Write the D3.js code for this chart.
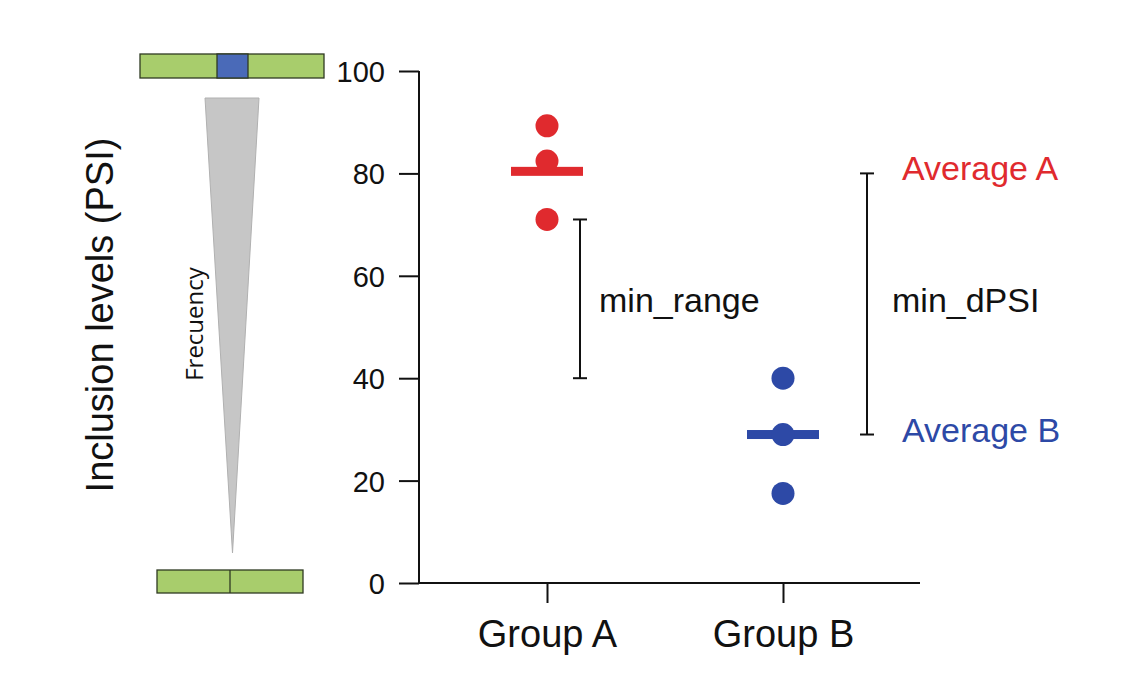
<!DOCTYPE html>
<html><head><meta charset="utf-8">
<script src="https://cdn.jsdelivr.net/npm/d3@7"></script>
<style>html,body{margin:0;padding:0;background:#fff;}svg{display:block;font-family:"Liberation Sans",Arial,sans-serif;}</style>
</head><body>
<svg id="c" width="1134" height="695"></svg>
<script>
const groups = ["Group A", "Group B"];
const valuesA = [89.3, 82.4, 71];
const valuesB = [40, 29, 17.5];
const averages = [80.4, 29];
const yTicks = [0, 20, 40, 60, 80, 100];
const minRange = [71, 40];
const minDPSI = [80, 29];
const avgLabels = ["Average A", "Average B"];
const colors = ["#e02a2e", "#2d49a6"];

const svg = d3.select("#c");
const y = d3.scaleLinear().domain([0, 100]).range([583, 71]);
const x = d3.scalePoint().domain(groups).range([547, 783]);

// Y axis
const yAx = svg.append("g").attr("transform", "translate(419,0)")
  .call(d3.axisLeft(y).tickValues(yTicks).tickSize(20).tickPadding(14));
yAx.select(".domain").attr("stroke", "#111").attr("stroke-width", 2).attr("d", "M0,71V583");
yAx.selectAll(".tick line").attr("stroke", "#111").attr("stroke-width", 2);
yAx.selectAll(".tick text").attr("font-size", 29).attr("fill", "#111")
  .attr("font-family", "Liberation Sans, Arial, sans-serif").attr("dy", "0.36em");

// X axis
const xAx = svg.append("g").attr("transform", "translate(0,583)")
  .call(d3.axisBottom(x).tickSize(20).tickPadding(0));
xAx.select(".domain").attr("stroke", "#111").attr("stroke-width", 2).attr("d", "M419,0H920");
xAx.selectAll(".tick line").attr("stroke", "#111").attr("stroke-width", 2);
xAx.selectAll(".tick text").attr("font-size", 38).attr("fill", "#111")
  .attr("font-family", "Liberation Sans, Arial, sans-serif").attr("dy", null).attr("y", 64);

// Y label
svg.append("text").attr("transform", "translate(113,315) rotate(-90)")
  .attr("text-anchor", "middle").attr("font-size", 38).attr("fill", "#111")
  .text("Inclusion levels (PSI)");

// Means
[valuesA, valuesB].forEach((vals, i) => {
  const cx = x(groups[i]);
  svg.append("rect").attr("x", cx - 36).attr("y", y(averages[i]) - 4.5)
    .attr("width", 72).attr("height", 9).attr("fill", colors[i]);
  svg.selectAll(null).data(vals).enter().append("circle")
    .attr("cx", cx).attr("cy", d => y(d)).attr("r", 11.5).attr("fill", colors[i]);
});

// Brackets
function bracket(xp, range, label, lx) {
  const g = svg.append("g").attr("stroke", "#111").attr("stroke-width", 2);
  g.append("line").attr("x1", xp).attr("x2", xp).attr("y1", y(range[0])).attr("y2", y(range[1]));
  range.forEach(v => g.append("line").attr("x1", xp - 7).attr("x2", xp + 7).attr("y1", y(v)).attr("y2", y(v)));
  svg.append("text").attr("x", lx).attr("y", 312)
    .attr("font-size", 34).attr("fill", "#111").text(label);
}
bracket(580, minRange, "min_range", 599);
bracket(867, minDPSI, "min_dPSI", 892);

avgLabels.forEach((t, i) => {
  svg.append("text").attr("x", 902).attr("y", y(minDPSI[i]) + 7)
    .attr("font-size", 34).attr("fill", colors[i]).text(t);
});

// Left diagram: exon with inclusion
const green = "#a8cd6c", exonBlue = "#4a6ab8", edge = "#2f3a22";
svg.append("rect").attr("x", 140).attr("y", 54).attr("width", 184).attr("height", 24)
  .attr("fill", green).attr("stroke", edge).attr("stroke-width", 1.3);
svg.append("rect").attr("x", 217).attr("y", 54).attr("width", 31).attr("height", 24)
  .attr("fill", exonBlue).attr("stroke", edge).attr("stroke-width", 1.3);

// triangle
svg.append("path").attr("d", "M205,98L259,98L232.5,553Z")
  .attr("fill", "#c6c6c6").attr("stroke", "#b0b0b0").attr("stroke-width", 1);
svg.append("text").attr("transform", "translate(203,324) rotate(-90)")
  .attr("text-anchor", "middle").attr("font-size", 24).attr("fill", "#111")
  .attr("font-family", "Open Sans, sans-serif").text("Frecuency");

// skipping isoform
svg.append("rect").attr("x", 157).attr("y", 570).attr("width", 146).attr("height", 23)
  .attr("fill", green).attr("stroke", edge).attr("stroke-width", 1.3);
svg.append("line").attr("x1", 230).attr("x2", 230).attr("y1", 570).attr("y2", 593)
  .attr("stroke", edge).attr("stroke-width", 1.3);
</script>
</body></html>
